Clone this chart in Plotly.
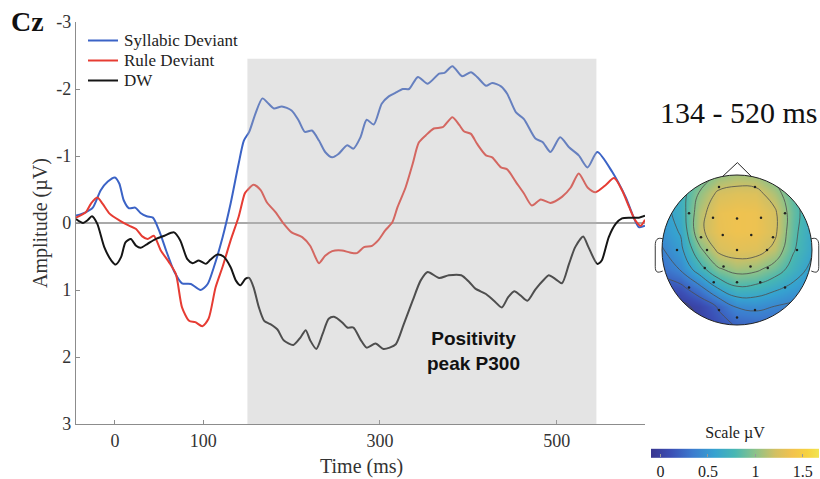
import plotly.graph_objects as go

# ---------------- ERP waveforms at Cz (time in ms, amplitude in µV) ----------------
syl_t = [-44, -33, -25, -16, -8, 0, 5, 10, 16, 23,
         29, 36, 43, 50, 58, 67, 76, 86, 97, 105,
         112, 122, 131, 140, 146, 152, 159, 167, 174, 180,
         189, 200, 208, 215, 223, 231, 238, 246, 253, 263,
         270, 278, 285, 293, 302, 310, 317, 326, 333, 343,
         354, 367, 373, 382, 393, 403, 410, 420, 427, 437,
         444, 454, 463, 476, 484, 493, 504, 514, 525, 535,
         546, 563, 578, 593, 600]
syl_uv = [-0.11, -0.16, -0.23, -0.49, -0.62, -0.68, -0.59, -0.34, -0.22, -0.23,
          -0.15, -0.10, -0.08, 0.11, 0.41, 0.72, 0.90, 0.91, 1.00, 0.91,
          0.66, 0.21, -0.29, -0.88, -1.23, -1.36, -1.63, -1.86, -1.78, -1.71,
          -1.74, -1.68, -1.53, -1.36, -1.38, -1.23, -1.06, -0.98, -1.03, -1.16,
          -1.11, -1.28, -1.54, -1.47, -1.78, -1.89, -1.94, -2.00, -2.00, -2.18,
          -2.08, -2.23, -2.24, -2.34, -2.19, -2.25, -2.18, -2.05, -2.09, -2.04,
          -1.93, -1.65, -1.55, -1.26, -1.21, -1.06, -1.28, -1.13, -1.01, -0.83,
          -1.06, -0.76, -0.39, 0.06, 0.04]

rule_t = [-44, -33, -27, -20, -14, -6, 5, 16, 24, 31,
          37, 44, 52, 61, 69, 76, 84, 91, 99, 106,
          114, 122, 131, 140, 147, 150, 157, 165, 172, 182,
          191, 200, 212, 221, 227, 231, 238, 246, 257, 266,
          274, 282, 291, 298, 306, 314, 320, 329, 337, 344,
          352, 361, 371, 382, 390, 395, 403, 410, 420, 427,
          437, 444, 454, 463, 472, 482, 493, 506, 516, 525,
          535, 544, 555, 565, 574, 582, 589, 595, 600]
rule_uv = [-0.08, -0.16, -0.29, -0.38, -0.29, -0.14, -0.04, 0.04, 0.09, 0.20,
           0.24, 0.19, 0.41, 0.58, 0.76, 1.26, 1.46, 1.48, 1.54, 1.43,
           0.96, 0.65, 0.26, -0.09, -0.44, -0.49, -0.57, -0.49, -0.31, -0.16,
           0.01, 0.14, 0.21, 0.34, 0.51, 0.60, 0.49, 0.42, 0.41, 0.44,
           0.45, 0.36, 0.34, 0.26, 0.11, -0.01, -0.24, -0.53, -0.88, -1.20,
           -1.31, -1.41, -1.43, -1.58, -1.46, -1.37, -1.33, -1.18, -1.01, -0.98,
           -0.83, -0.80, -0.61, -0.44, -0.26, -0.35, -0.30, -0.39, -0.53, -0.74,
           -0.53, -0.46, -0.56, -0.67, -0.49, -0.24, -0.04, 0.04, -0.05]

dw_t = [-44, -36, -31, -26, -20, -12, -4, 1, 7, 12,
        18, 24, 29, 37, 46, 56, 67, 74, 82, 88,
        95, 103, 108, 116, 123, 131, 137, 142, 148, 152,
        157, 163, 169, 176, 184, 191, 202, 210, 216, 221,
        228, 235, 242, 248, 257, 263, 270, 278, 285, 295,
        304, 311, 318, 327, 337, 346, 354, 367, 378, 392,
        401, 408, 420, 429, 438, 445, 452, 459, 467, 476,
        486, 491, 499, 506, 514, 521, 530, 536, 546, 551,
        559, 567, 574, 583, 593, 600]
dw_uv = [-0.06, 0.00, -0.04, -0.10, 0.01, 0.36, 0.56, 0.62, 0.51, 0.29,
         0.24, 0.34, 0.37, 0.31, 0.24, 0.19, 0.14, 0.26, 0.54, 0.60,
         0.56, 0.61, 0.55, 0.47, 0.50, 0.66, 0.86, 0.93, 0.83, 0.82,
         0.96, 1.26, 1.46, 1.51, 1.59, 1.75, 1.82, 1.71, 1.60, 1.75,
         1.88, 1.66, 1.43, 1.40, 1.48, 1.56, 1.56, 1.74, 1.86, 1.80,
         1.88, 1.86, 1.81, 1.51, 1.16, 0.86, 0.73, 0.82, 0.78, 0.78,
         0.88, 0.98, 1.06, 1.16, 1.26, 1.11, 1.02, 1.08, 1.16, 0.99,
         0.84, 0.78, 0.84, 0.90, 0.61, 0.36, 0.20, 0.36, 0.61, 0.56,
         0.21, 0.01, -0.07, -0.08, -0.08, -0.11]

series_names = ["Syllabic Deviant", "Rule Deviant", "DW"]
series_colors = ["#3b63c6", "#e63c33", "#151515"]

time_ticks = [0, 100, 300, 500]
amp_ticks = [-3, -2, -1, 0, 1, 2, 3]
amp_tick_text = ["-3", "-2", "-1", "0", "1", "2", "3"]

# analysis window highlighted on the waveform plot
window_ms = [150, 545]
window_top_uv = -2.45

# ---------------- scalp topography, mean amplitude 134 - 520 ms ----------------
topo_x = [-1.0, -0.75, -0.5, -0.25, 0.0, 0.25, 0.5, 0.75, 1.0]
topo_y = [-1.0, -0.75, -0.5, -0.25, 0.0, 0.25, 0.5, 0.75, 1.0]
topo_z = [
    [-0.10, -0.08, 0.00, 0.12, 0.22, 0.25, 0.25, 0.22, 0.20],
    [-0.08, -0.05, 0.05, 0.22, 0.42, 0.45, 0.40, 0.35, 0.30],
    [0.10, 0.15, 0.35, 0.62, 0.78, 0.75, 0.65, 0.55, 0.45],
    [0.28, 0.42, 0.72, 0.98, 1.08, 1.05, 0.92, 0.72, 0.55],
    [0.38, 0.55, 0.95, 1.24, 1.30, 1.28, 1.15, 0.82, 0.62],
    [0.48, 0.62, 1.15, 1.33, 1.37, 1.36, 1.25, 0.86, 0.63],
    [0.52, 0.68, 1.12, 1.34, 1.37, 1.36, 1.24, 0.88, 0.66],
    [0.55, 0.70, 1.02, 1.24, 1.28, 1.27, 1.10, 0.84, 0.68],
    [0.58, 0.72, 0.86, 1.02, 1.08, 1.06, 0.92, 0.78, 0.68],
]
elec_x = [-0.24, 0.24, -0.64, -0.32, 0.0, 0.32, 0.64, -0.48, -0.19, 0.19, 0.48,
          -0.80, -0.40, 0.0, 0.40, 0.80, -0.43, -0.18, 0.18, 0.41,
          -0.64, -0.31, 0.0, 0.31, 0.64, -0.24, 0.0, 0.24]
elec_y = [0.84, 0.84, 0.49, 0.43, 0.42, 0.43, 0.49, 0.17, 0.20, 0.20, 0.17,
          0.0, 0.0, 0.0, 0.0, 0.0, -0.24, -0.22, -0.22, -0.24,
          -0.50, -0.43, -0.43, -0.43, -0.50, -0.80, -0.90, -0.80]
scale_min, scale_max = -0.10, 1.67
scale_ticks = [0, 0.5, 1, 1.5]
scale_tick_text = ["0", "0.5", "1", "1.5"]

parula_soft = [
    [0.00, "#38358f"], [0.12, "#3b4fb5"], [0.25, "#3c7ccf"], [0.38, "#36a2d0"],
    [0.50, "#48b7b3"], [0.62, "#8bc28a"], [0.74, "#d2c063"], [0.84, "#f2c24e"],
    [0.93, "#f6d240"], [1.00, "#f1e452"],
]

# ---------------- page geometry (pixels) ----------------
W, H = 820, 479
SERIF = "Liberation Serif, Times New Roman, serif"
SANS = "Liberation Sans, Arial, sans-serif"


def fx(px):
    return px / W


def fy(py):
    return 1 - py / H


# head centre / radius on the page
HX, HY, HR = 737.0, 250.0, 75.0
topo_left, topo_right, topo_top, topo_bottom = 652.0, 820.0, 160.0, 340.0

fig = go.Figure()

for t, v, name, col in zip([syl_t, rule_t, dw_t], [syl_uv, rule_uv, dw_uv],
                           series_names, series_colors):
    fig.add_trace(go.Scatter(
        x=t, y=v, name=name, mode="lines",
        line=dict(color=col, width=2, shape="spline", smoothing=0.7),
        showlegend=False, hoverinfo="skip", xaxis="x", yaxis="y"))

# topography: smooth field, iso-lines and electrodes
fig.add_trace(go.Heatmap(
    x=topo_x, y=topo_y, z=topo_z, zsmooth="best",
    colorscale=parula_soft, zmin=scale_min, zmax=scale_max,
    xaxis="x2", yaxis="y2", hoverinfo="skip",
    colorbar=dict(
        orientation="h", x=fx(735), xanchor="center",
        y=fy(484), yanchor="bottom",
        len=168, lenmode="pixels", thickness=9, thicknessmode="pixels",
        xpad=0, ypad=0, outlinewidth=0,
        tickvals=scale_ticks, ticktext=scale_tick_text,
        ticks="inside", ticklen=3, tickcolor="#999999",
        tickfont=dict(family=SERIF, size=16, color="#222222"),
        title=dict(text="Scale µV", side="top",
                   font=dict(family=SERIF, size=16, color="#222222")),
    )))
fig.add_trace(go.Contour(
    x=topo_x, y=topo_y, z=topo_z,
    contours=dict(start=0.0, end=1.2, size=0.2, coloring="none"),
    line=dict(color="#4d4d4d", width=0.8, smoothing=1.3),
    showscale=False, hoverinfo="skip", xaxis="x2", yaxis="y2"))
fig.add_trace(go.Scatter(
    x=elec_x, y=elec_y, mode="markers",
    marker=dict(size=2.5, color="#222222"),
    showlegend=False, hoverinfo="skip", xaxis="x2", yaxis="y2"))

# ---------------- shapes ----------------
shapes = []
# highlighted time window
shapes.append(dict(type="rect", xref="x", yref="y",
                   x0=window_ms[0], x1=window_ms[1], y0=window_top_uv, y1=3,
                   fillcolor="rgba(180,180,180,0.36)", line=dict(width=0),
                   layer="above"))
# legend samples
legend_rows = [40.5, 60.5, 80.5]
for row, col in zip(legend_rows, series_colors):
    shapes.append(dict(type="line", xref="paper", yref="paper",
                       x0=fx(88), x1=fx(118), y0=fy(row), y1=fy(row),
                       line=dict(color=col, width=2)))

k = 0.5523
circle_path = (f"M 1,0 C 1,{k} {k},1 0,1 C {-k},1 -1,{k} -1,0 "
               f"C -1,{-k} {-k},-1 0,-1 C {k},-1 1,{-k} 1,0 Z")
# white mask outside the scalp (outer box drawn counter to the circle)
mask_path = "M -1.4,-1.4 L -1.4,1.4 L 1.4,1.4 L 1.4,-1.4 Z " + circle_path
shapes.append(dict(type="path", xref="x2", yref="y2", path=mask_path,
                   fillcolor="white", fillrule="evenodd",
                   line=dict(width=0), layer="above"))
# head outline, nose and ears
shapes.append(dict(type="path", xref="x2", yref="y2", path=circle_path,
                   line=dict(color="#222222", width=1), layer="above"))
shapes.append(dict(type="path", xref="x2", yref="y2",
                   path="M -0.19,0.982 L 0.005,1.165 L 0.19,0.982",
                   line=dict(color="#222222", width=1), layer="above"))
shapes.append(dict(type="path", xref="x2", yref="y2",
                   path=("M -0.99,0.15 C -1.06,0.17 -1.09,0.14 -1.09,0.06 "
                         "L -1.09,-0.22 C -1.09,-0.30 -1.06,-0.31 -0.99,-0.28"),
                   line=dict(color="#222222", width=0.9), layer="above"))
shapes.append(dict(type="path", xref="x2", yref="y2",
                   path=("M 0.99,0.15 C 1.06,0.17 1.09,0.14 1.09,0.06 "
                         "L 1.09,-0.22 C 1.09,-0.30 1.06,-0.31 0.99,-0.28"),
                   line=dict(color="#222222", width=0.9), layer="above"))

# ---------------- annotations ----------------
ann = []
ann.append(dict(text="<b>Cz</b>", x=fx(27), y=fy(22), xref="paper", yref="paper",
                showarrow=False, xanchor="center", yanchor="middle",
                font=dict(family=SERIF, size=28, color="#111111")))
for row, name in zip(legend_rows, series_names):
    ann.append(dict(text=name, x=fx(122), y=fy(row), xref="paper", yref="paper",
                    showarrow=False, xanchor="left", yanchor="middle",
                    font=dict(family=SERIF, size=17, color="#222222")))
ann.append(dict(text="Amplitude (µV)", x=fx(40), y=fy(223), xref="paper",
                yref="paper", showarrow=False, textangle=-90,
                xanchor="center", yanchor="middle",
                font=dict(family=SERIF, size=20, color="#333333")))
ann.append(dict(text="Time (ms)", x=fx(361), y=fy(466), xref="paper",
                yref="paper", showarrow=False, xanchor="center", yanchor="middle",
                font=dict(family=SERIF, size=20, color="#333333")))
ann.append(dict(text="<b>Positivity</b><br><b>peak P300</b>", x=fx(474), y=fy(351),
                xref="paper", yref="paper", showarrow=False, align="center",
                xanchor="center", yanchor="middle",
                font=dict(family=SANS, size=19, color="#111111")))
ann.append(dict(text="134 - 520 ms", x=fx(739), y=fy(112), xref="paper",
                yref="paper", showarrow=False, xanchor="center", yanchor="middle",
                font=dict(family=SERIF, size=30, color="#111111")))

axis_col = "#8c8c8c"
fig.update_layout(
    width=W, height=H, margin=dict(l=0, r=0, t=0, b=0, autoexpand=False),
    paper_bgcolor="white", plot_bgcolor="white", template="none",
    showlegend=False,
    xaxis=dict(domain=[fx(76), fx(645)], range=[-44, 600],
               tickvals=time_ticks, ticktext=[str(v) for v in time_ticks],
               ticks="inside", ticklen=4, tickcolor=axis_col, tickwidth=1,
               showline=True, linecolor=axis_col, linewidth=1.2,
               showgrid=False, zeroline=False, anchor="y",
               tickfont=dict(family=SERIF, size=18, color="#333333")),
    yaxis=dict(domain=[fy(424), fy(22)], range=[3, -3],
               tickvals=amp_ticks, ticktext=amp_tick_text,
               ticks="inside", ticklen=4, tickcolor=axis_col, tickwidth=1,
               showline=True, linecolor=axis_col, linewidth=1.2,
               showgrid=False, zeroline=True, zerolinecolor="#a9a9a9",
               zerolinewidth=1.6, anchor="x",
               tickfont=dict(family=SERIF, size=18, color="#333333")),
    xaxis2=dict(domain=[fx(topo_left), fx(topo_right)],
                range=[(topo_left - HX) / HR, (topo_right - HX) / HR],
                visible=False, anchor="y2"),
    yaxis2=dict(domain=[fy(topo_bottom), fy(topo_top)],
                range=[(HY - topo_bottom) / HR, (HY - topo_top) / HR],
                visible=False, anchor="x2"),
    shapes=shapes, annotations=ann,
)

fig.write_html("out.html")
